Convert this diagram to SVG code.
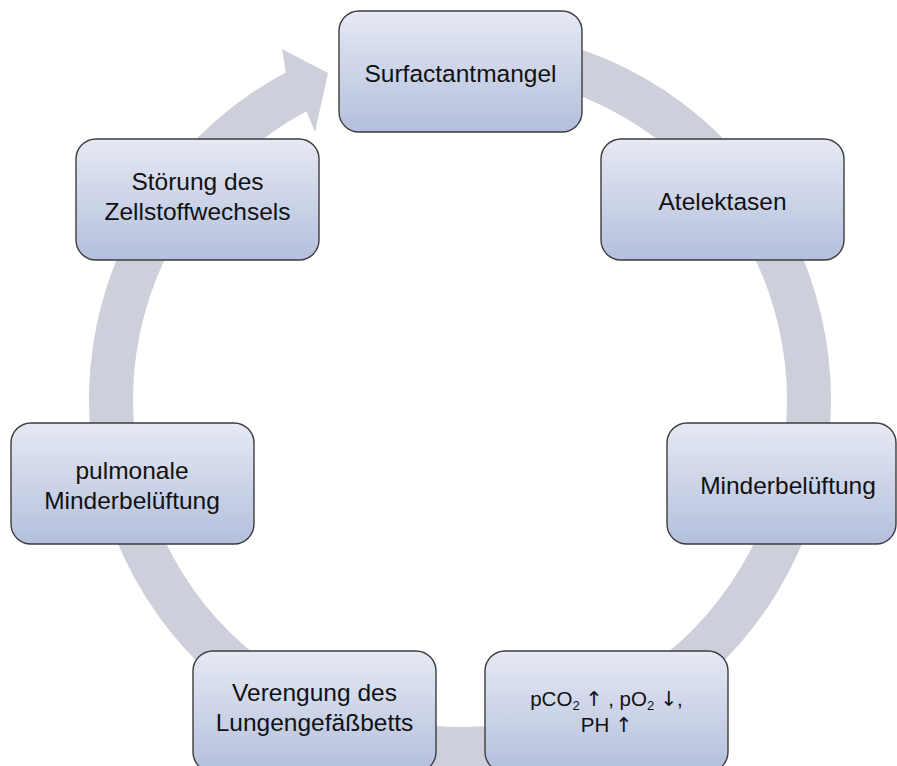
<svg xmlns="http://www.w3.org/2000/svg" width="897" height="766" viewBox="0 0 897 766">
<defs>
<linearGradient id="g" x1="0" y1="0" x2="0" y2="1">
<stop offset="0" stop-color="#e6e9f4"/>
<stop offset="1" stop-color="#b3bfdc"/>
</linearGradient>
</defs>
<style>
.box{fill:url(#g);stroke:#3c3c3c;stroke-width:1.4}
.t{font-family:"Liberation Sans",Arial,sans-serif;font-size:24.5px;fill:#111;text-anchor:middle}
.s{font-size:20.5px}
.a{font-family:"DejaVu Sans",sans-serif;fill:#111}
.sub{font-size:13px}
.ring{fill:#cdd0da}
</style>
<rect width="897" height="766" fill="#fff"/>
<g id="connectors">
<path class="ring" d="M524.4,34.6 A371,371 0 1 1 285.8,72.4 L282,49 L328,73 L315,132 L306.5,111.3 A327,327 0 1 0 516.8,78.0 Z"/>
</g>
<g id="node-surfactantmangel">
<rect class="box" x="339" y="11" width="243" height="121" rx="20"/>
<text class="t" x="460.5" y="82">Surfactantmangel</text>
</g>
<g id="node-atelektasen">
<rect class="box" x="601" y="139" width="243" height="121" rx="20"/>
<text class="t" x="722.5" y="210">Atelektasen</text>
</g>
<g id="node-minderbelueftung">
<rect class="box" x="667" y="423" width="229" height="121" rx="20"/>
<text class="t" x="788" y="494">Minderbelüftung</text>
</g>
<g id="node-blutgase">
<rect class="box" x="485" y="651" width="243" height="121" rx="20"/>
<text class="t s" x="606.5" y="706">pCO<tspan class="sub" dy="4">2</tspan><tspan dy="-4"> </tspan><tspan class="a">↑</tspan> , pO<tspan class="sub" dy="4">2</tspan><tspan dy="-4"> </tspan><tspan class="a">↓</tspan>,</text>
<text class="t s" x="606.5" y="732">PH <tspan class="a">↑</tspan></text>
</g>
<g id="node-verengung">
<rect class="box" x="193" y="651" width="243" height="121" rx="20"/>
<text class="t" x="314.5" y="701">Verengung des</text>
<text class="t" x="314.5" y="731">Lungengefäßbetts</text>
</g>
<g id="node-pulmonale">
<rect class="box" x="11" y="423" width="243" height="121" rx="20"/>
<text class="t" x="132" y="479">pulmonale</text>
<text class="t" x="132" y="509">Minderbelüftung</text>
</g>
<g id="node-stoerung">
<rect class="box" x="76" y="139" width="243" height="121" rx="20"/>
<text class="t" x="197.5" y="190">Störung des</text>
<text class="t" x="197.5" y="220">Zellstoffwechsels</text>
</g>
</svg>
